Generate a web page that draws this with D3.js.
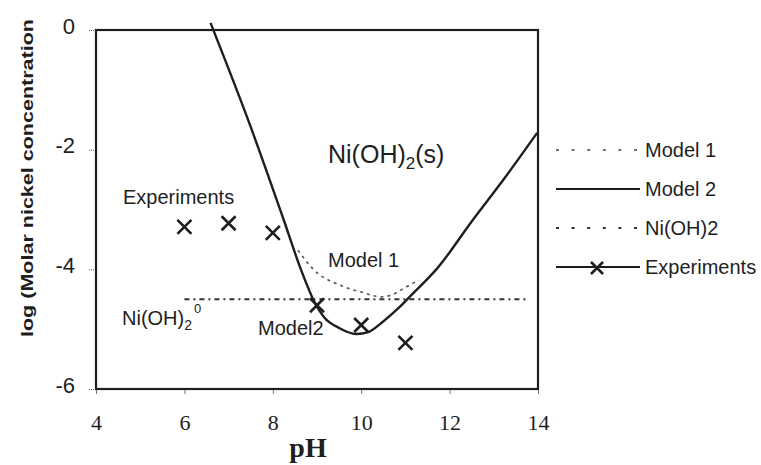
<!DOCTYPE html>
<html>
<head>
<meta charset="utf-8">
<script src="https://cdn.jsdelivr.net/npm/d3@7"></script>
<style>
  body { margin: 0; background: #fff; }
  svg { display: block; }
</style>
</head>
<body>
<svg id="chart" width="761" height="465"></svg>
<script>
// values (pH, log molar Ni)
const model1 = [[8.57, -3.68], [8.93, -4.01], [9.5, -4.26], [10.0, -4.38], [10.45, -4.46],
  [10.68, -4.43], [10.98, -4.31], [11.3, -4.18]];
const model2 = [[6.59, 0.12], [7.5, -1.62], [8.25, -3.18], [8.64, -4.01], [8.98, -4.6],
  [9.16, -4.8], [9.5, -4.98], [9.89, -5.08], [10.16, -5.05], [10.45, -4.9], [10.84, -4.65],
  [11.2, -4.38], [11.5, -4.16], [11.7, -4.0], [12.5, -3.2], [13.25, -2.47], [13.98, -1.72]];
const niOH2 = [[6.0, -4.5], [13.75, -4.5]];
const experiments = [[6, -3.29], [7, -3.23], [8, -3.39], [9, -4.6], [10, -4.93], [11, -5.23]];
const xTicks = [4, 6, 8, 10, 12, 14];
const yTicks = [0, -2, -4, -6];
const legendNames = ['Model 1', 'Model 2', 'Ni(OH)2', 'Experiments'];

const svg = d3.select('#chart');
const margin = { top: 30, right: 223, bottom: 76, left: 96 };
const width = 761, height = 465;
const ink = '#1e1e1e';

const x = d3.scaleLinear().domain([4, 14]).range([margin.left, width - margin.right]);
const y = d3.scaleLinear().domain([-6, 0]).range([height - margin.bottom, margin.top]);

// axes (ticks + labels), frame drawn separately
const yAxis = svg.append('g')
  .attr('transform', `translate(${margin.left},0)`)
  .call(d3.axisLeft(y).tickValues(yTicks).tickSize(8).tickPadding(13).tickFormat(d => String(d)));
yAxis.select('.domain').remove();
yAxis.selectAll('line').attr('stroke', '#555').attr('stroke-dasharray', '1,1');
yAxis.selectAll('text')
  .attr('dy', '0.14em')
  .attr('font-family', 'Liberation Sans, Arial, sans-serif')
  .attr('font-size', 22)
  .attr('fill', ink);

const xAxis = svg.append('g')
  .attr('transform', `translate(0,${height - margin.bottom})`)
  .call(d3.axisBottom(x).tickValues(xTicks).tickSize(5).tickPadding(20));
xAxis.select('.domain').remove();
xAxis.selectAll('line').attr('stroke', '#777');
xAxis.selectAll('text')
  .attr('font-family', 'Liberation Serif, Times New Roman, serif')
  .attr('font-size', 22)
  .attr('fill', ink);

// frame
svg.append('rect')
  .attr('x', x(4)).attr('y', y(0))
  .attr('width', x(14) - x(4)).attr('height', y(-6) - y(0))
  .attr('fill', 'none').attr('stroke', ink).attr('stroke-width', 2.2);

const line = d3.line().x(d => x(d[0])).y(d => y(d[1]));
const smooth = d3.line().x(d => x(d[0])).y(d => y(d[1])).curve(d3.curveMonotoneX);

// Ni(OH)2 aqueous level
svg.append('path').datum(niOH2)
  .attr('d', line)
  .attr('fill', 'none').attr('stroke', '#333').attr('stroke-width', 2.2)
  .attr('stroke-dasharray', '5,4,2,4');

// Model 1
svg.append('path').datum(model1)
  .attr('d', smooth)
  .attr('fill', 'none').attr('stroke', '#555').attr('stroke-width', 1.6)
  .attr('stroke-dasharray', '3,4');

// Model 2
svg.append('path').datum(model2)
  .attr('d', smooth)
  .attr('fill', 'none').attr('stroke', ink).attr('stroke-width', 2.4);

// experiment crosses
const cross = (g, cx, cy, r) => g.append('path')
  .attr('d', `M${cx - r},${cy - r}L${cx + r},${cy + r}M${cx - r},${cy + r}L${cx + r},${cy - r}`)
  .attr('stroke', ink).attr('stroke-width', 2.6).attr('fill', 'none');

const expG = svg.append('g');
experiments.forEach(d => cross(expG, x(d[0]), y(d[1]), 7));

// annotations
const sans = 'Liberation Sans, Arial, sans-serif';
const note = (tx, ty, size) => svg.append('text')
  .attr('x', tx).attr('y', ty)
  .attr('font-family', sans).attr('font-size', size).attr('fill', ink);

note(123, 204, 20).text('Experiments');
note(328, 267, 20).text('Model 1');
note(258, 335, 20).text('Model2');

const sol = note(328, 163, 25);
sol.append('tspan').text('Ni(OH)');
sol.append('tspan').attr('font-size', 17).attr('dy', 6).text('2');
sol.append('tspan').attr('dy', -6).text('(s)');

const aq = note(122, 325, 20);
aq.append('tspan').text('Ni(OH)');
aq.append('tspan').attr('font-size', 14).attr('dy', 5).text('2');
aq.append('tspan').attr('font-size', 13).attr('dx', 2).attr('dy', -17).text('0');

// axis titles
svg.append('text')
  .attr('x', x(9) - 9).attr('y', 457)
  .attr('text-anchor', 'middle')
  .attr('font-family', 'Liberation Serif, Times New Roman, serif')
  .attr('font-weight', 'bold').attr('font-size', 28)
  .attr('fill', ink)
  .text('pH');

svg.append('text')
  .attr('transform', 'translate(33,178) rotate(-90)')
  .attr('text-anchor', 'middle')
  .attr('font-family', sans)
  .attr('font-weight', 'bold').attr('font-size', 17)
  .attr('textLength', 318).attr('lengthAdjust', 'spacingAndGlyphs')
  .attr('fill', ink)
  .text('log (Molar nickel concentration');

// legend
const legend = svg.append('g').attr('transform', 'translate(556,150)');
const rowGap = 39;
legendNames.forEach((name, i) => {
  const row = legend.append('g').attr('transform', `translate(0,${i * rowGap})`);
  const ln = row.append('line').attr('x1', 0).attr('x2', 84).attr('y1', 0).attr('y2', 0)
    .attr('stroke', ink);
  if (i === 0) ln.attr('stroke', '#444').attr('stroke-width', 1.6).attr('stroke-dasharray', '3,12.6');
  if (i === 1) ln.attr('stroke-width', 2.2);
  if (i === 2) ln.attr('stroke', '#333').attr('stroke-width', 2).attr('stroke-dasharray', '3,12.6');
  if (i === 3) { ln.attr('stroke-width', 2.2); cross(row, 41, 1, 6); }
  row.append('text').attr('x', 89).attr('y', 7)
    .attr('font-family', sans).attr('font-size', 20).attr('fill', ink)
    .text(name);
});
</script>
</body>
</html>
